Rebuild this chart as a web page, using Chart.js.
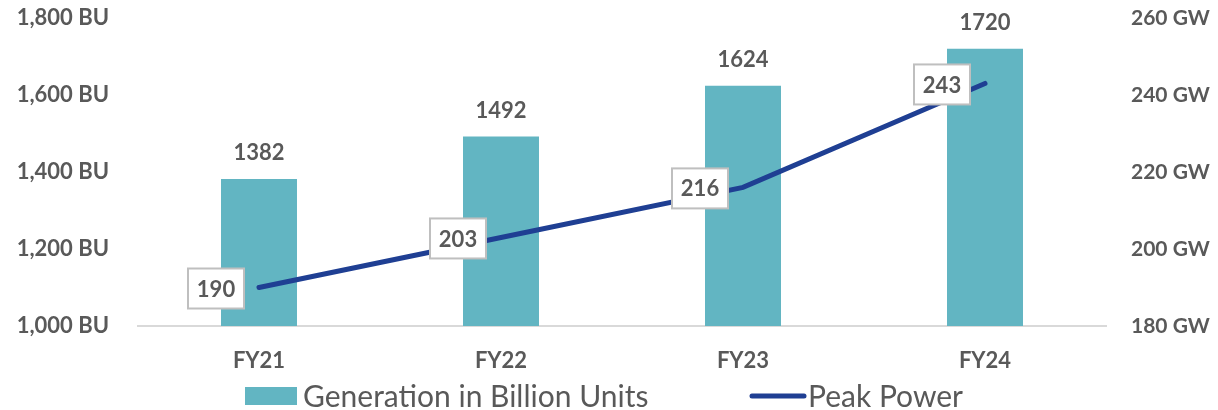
<!DOCTYPE html>
<html>
<head>
<meta charset="utf-8">
<script src="https://cdn.jsdelivr.net/npm/chart.js@4.4.1/dist/chart.umd.min.js"></script>
<style>
html,body{margin:0;padding:0;background:#fff;}
#wrap{width:1218px;height:410px;position:relative;}
</style>
</head>
<body>
<div id="wrap"><canvas id="c" width="1218" height="410"></canvas></div>
<script>
const categories = ['FY21', 'FY22', 'FY23', 'FY24'];
const generationBU = [1382, 1492, 1624, 1720];
const peakPowerGW = [190, 203, 216, 243];
const leftTicks = [1000, 1200, 1400, 1600, 1800];
const rightTicks = [180, 200, 220, 240, 260];

const TEXT = '#595959';
const BAR = '#62b5c2';
const LINE = '#1f3f93';
const FONT = 'Lato';

const labelPlugin = {
  id: 'labels',
  afterDatasetsDraw(chart) {
    const ctx = chart.ctx;
    ctx.save();
    const barMeta = chart.getDatasetMeta(0);
    ctx.font = `bold 22px ${FONT}`;
    ctx.fillStyle = TEXT;
    ctx.textAlign = 'center';
    ctx.textBaseline = 'middle';
    barMeta.data.forEach((el, i) => {
      ctx.fillText(String(generationBU[i]), el.x, el.y - 26);
    });
    const lineMeta = chart.getDatasetMeta(1);
    lineMeta.data.forEach((el, i) => {
      const cx = el.x - 43, cy = el.y + 1;
      const w = 56, h = 40;
      ctx.fillStyle = '#ffffff';
      ctx.fillRect(cx - w / 2, cy - h / 2, w, h);
      ctx.strokeStyle = '#bfbfbf';
      ctx.lineWidth = 2;
      ctx.strokeRect(cx - w / 2, cy - h / 2, w, h);
      ctx.fillStyle = TEXT;
      ctx.font = `bold 22px ${FONT}`;
      ctx.fillText(String(peakPowerGW[i]), cx, cy + 1);
    });
    ctx.restore();
  },
  afterDraw(chart) {
    const ctx = chart.ctx;
    const area = chart.chartArea;
    const y = area.bottom + 70;
    ctx.save();
    ctx.font = `30px ${FONT}`;
    ctx.textBaseline = 'middle';
    ctx.textAlign = 'left';
    let x = 245;
    ctx.fillStyle = BAR;
    ctx.fillRect(x, y - 9, 52, 18);
    ctx.fillStyle = TEXT;
    ctx.fillText(chart.data.datasets[0].label, x + 58, y + 1);
    x = 752;
    ctx.strokeStyle = LINE;
    ctx.lineWidth = 5;
    ctx.lineCap = 'round';
    ctx.beginPath();
    ctx.moveTo(x, y);
    ctx.lineTo(x + 52, y);
    ctx.stroke();
    ctx.fillStyle = TEXT;
    ctx.fillText(chart.data.datasets[1].label, x + 56, y + 1);
    ctx.restore();
  }
};

new Chart(document.getElementById('c'), {
  data: {
    labels: categories,
    datasets: [
      {
        type: 'bar',
        label: 'Generation in Billion Units',
        data: generationBU,
        backgroundColor: BAR,
        yAxisID: 'y',
        barPercentage: 0.314,
        categoryPercentage: 1,
        order: 2
      },
      {
        type: 'line',
        label: 'Peak Power',
        data: peakPowerGW,
        borderColor: LINE,
        borderWidth: 5,
        borderCapStyle: 'round',
        pointRadius: 0,
        tension: 0,
        yAxisID: 'y1',
        order: 1
      }
    ]
  },
  options: {
    responsive: false,
    animation: false,
    layout: { padding: { top: 18, left: 0, right: 0, bottom: 0 } },
    plugins: { legend: { display: false }, tooltip: { enabled: false } },
    scales: {
      x: {
        grid: { display: false },
        border: { display: true, color: '#d9d9d9', width: 2 },
        ticks: { color: TEXT, font: { family: FONT, size: 22, weight: 'bold' }, padding: 14 },
        afterFit(s) { s.height = 84; s.paddingLeft = 0; s.paddingRight = 0; }
      },
      y: {
        position: 'left',
        min: 1000, max: 1800,
        afterBuildTicks(s) { s.ticks = leftTicks.map(v => ({ value: v })); },
        grid: { display: false },
        border: { display: false },
        ticks: {
          color: TEXT, padding: 21,
          font: { family: FONT, size: 22, weight: 'bold' },
          callback: v => v.toLocaleString('en-US') + ' BU'
        },
        afterFit(s) { s.width = 138; s.paddingTop = 0; s.paddingBottom = 0; }
      },
      y1: {
        position: 'right',
        min: 180, max: 260,
        afterBuildTicks(s) { s.ticks = rightTicks.map(v => ({ value: v })); },
        grid: { display: false },
        border: { display: false },
        ticks: {
          color: TEXT, padding: 17,
          font: { family: FONT, size: 21, weight: 'bold' },
          callback: v => v + ' GW'
        },
        afterFit(s) { s.width = 112; s.paddingTop = 0; s.paddingBottom = 0; }
      }
    }
  },
  plugins: [labelPlugin]
});
</script>
</body>
</html>
